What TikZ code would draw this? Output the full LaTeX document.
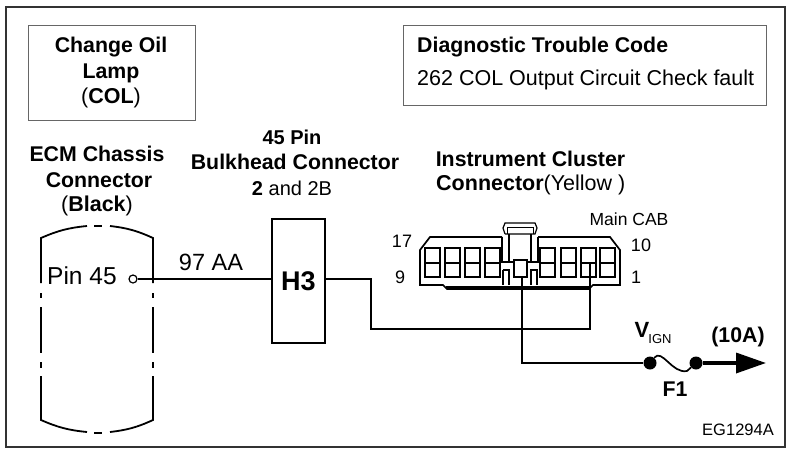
\documentclass[tikz,border=0pt]{standalone}
\usepackage{fontspec}
\setmainfont{Liberation Sans}
\usetikzlibrary{arrows.meta}
\tikzset{
  wire/.style={line width=1.7pt},
  label/.style={inner sep=0pt,font=\fontsize{21.5}{24}\selectfont},
  bold label/.style={inner sep=0pt,font=\fontsize{21.3}{24}\selectfont\bfseries},
  box/.style={draw=black!60,line width=0.7pt},
  cell/.style={line width=1.1pt},
  dot/.style={circle,fill=black,inner sep=0pt,minimum size=13pt}
}
\begin{document}
\begin{tikzpicture}[x=1pt,y=-1pt]
\useasboundingbox (0,0) rectangle (800,458);
\draw[line width=1.3pt,black!80] (6,7) rectangle (785,447);

\draw[box] (28,25) rectangle (195,120);
\node[bold label] (lampa) at (111,47) {Change Oil};
\node[bold label] (lampb) at (111,73) {Lamp};
\node[label] (lampc) at (111,98) {(\textbf{COL})};
\draw[box] (403,25) rectangle (766,105);
\node[bold label,anchor=west] (dtca) at (417,47) {Diagnostic Trouble Code};
\node[label,anchor=west] (dtcb) at (417,80) {262 COL Output Circuit Check fault};

\node[bold label] (ecma) at (97,154) {ECM Chassis};
\node[bold label] (ecmb) at (99,180) {Connector};
\node[label] (ecmc) at (97,206) {(\textbf{Black})};
\node[bold label,font=\fontsize{20}{24}\selectfont\bfseries] (bulka) at (292,137) {45 Pin};
\node[bold label] (bulkb) at (295,162) {Bulkhead Connector};
\node[label,font=\fontsize{20}{24}\selectfont] (bulkc) at (292,188) {\textbf{2} and 2B};
\node[bold label] (insta) at (530.5,159) {Instrument Cluster};
\node[label,anchor=west] (instb) at (436,185) {\textbf{Connector}(Yellow )};
\node[label,font=\fontsize{17.5}{20}\selectfont] (cab) at (629,219) {Main CAB};
\node[label,font=\fontsize{18}{20}\selectfont] (seventeen) at (402,241) {17};
\node[label,font=\fontsize{18}{20}\selectfont] (ten) at (641,245) {10};
\node[label,font=\fontsize{18}{20}\selectfont] (nine) at (400,277) {9};
\node[label,font=\fontsize{18}{20}\selectfont] (one) at (636,277) {1};

% ECM chassis outline
\draw[line width=1.8pt] (41,283)--(41,238) to[bend left=9] (87,226);
\draw[line width=1.8pt] (94,226)--(102,226);
\draw[line width=1.8pt] (110,226) to[bend left=9] (153,238)--(153,283);
\draw[line width=1.8pt] (41,293)--(41,298) (41,307)--(41,353) (41,362)--(41,368);
\draw[line width=1.8pt] (153,293)--(153,298) (153,307)--(153,353) (153,362)--(153,368);
\draw[line width=1.8pt] (41,376)--(41,420) to[bend right=9] (87,432);
\draw[line width=1.8pt] (94,433)--(102,433);
\draw[line width=1.8pt] (110,432) to[bend right=9] (153,420)--(153,376);
\node[label,font=\fontsize{24.5}{26}\selectfont,anchor=west] (pin) at (47,276) {Pin 45};
\node[circle,draw,line width=1.2pt,inner sep=0pt,minimum size=8pt] (pinend) at (133,279) {};

\node[draw,line width=1.7pt,minimum width=53pt,minimum height=124pt,inner sep=0pt,
  font=\fontsize{27}{30}\selectfont\bfseries] (hthree) at (298.5,281) {H3};
\node[label,font=\fontsize{23.5}{26}\selectfont] (wirename) at (211,262) {97 AA};

% instrument cluster connector
\draw[line width=1.7pt] (502,237)--(430,237)--(420,250)--(420,285)--(443,285)--(447,289)--(589,289)--(593,285)--(620,285)--(620,250)--(610,237)--(538,237);
\draw[line width=1.2pt] (502,237)--(502,262)--(513,262);
\draw[line width=1.2pt] (538,237)--(538,262)--(527,262);
\draw[line width=1.2pt] (509,234)--(509,262) (531,234)--(531,262);
\draw[line width=1.2pt] (505,234)--(503,228)--(505,223)--(535,223)--(537,228)--(535,234)--(505,234);
\draw[line width=0.8pt] (507,234)--(507,227)--(533,227)--(533,234);
\foreach \xa in {425,445,465,485,540,561,581,600}{
  \draw[cell] (\xa,248) rectangle (\xa+15,277);
  \draw[cell] (\xa,263)--(\xa+15,263);
}
\draw[cell] (514,260) rectangle (527,277);
\draw[cell] (503,270)--(503,285) (503,270)--(509,270)--(509,285);
\draw[cell] (531,285)--(531,270)--(537,270)--(537,285);
\draw[line width=3pt] (446,287.5)--(590,287.5);
\coordinate (pinb) at (522,277);
\coordinate (pina) at (590,262);

% wiring
\coordinate (benda) at (371,279);
\coordinate (bendb) at (371,329);
\coordinate (bendc) at (590,329);
\coordinate (bendd) at (522,363);
\node[dot] (fusea) at (650,363) {};
\node[dot] (fuseb) at (696,363) {};
\coordinate (tip) at (766,363);
\draw[wire] (pinend)--(hthree.west|-pinend);
\draw[wire] (hthree.east|-benda)--(benda)--(bendb)--(bendc)--(pina);
\draw[wire] (pinb)--(bendd)--(fusea);
\draw[wire] (fusea) .. controls (662,348) and (672,374) .. (687,371)--(fuseb);
\draw[line width=3.5pt,-{Triangle[length=30pt,width=20pt]}] (fuseb)--(tip);

\node[bold label,font=\fontsize{22}{24}\selectfont\bfseries] (vign) at (642,330) {V};
\node[label,font=\fontsize{13}{15}\selectfont] (ign) at (660,339) {IGN};
\node[bold label] (amps) at (738,337) {(10A)};
\node[bold label] (fname) at (675,389) {F1};
\node[label,font=\fontsize{16.5}{18}\selectfont] (code) at (738,430) {EG1294A};
\end{tikzpicture}
\end{document}
